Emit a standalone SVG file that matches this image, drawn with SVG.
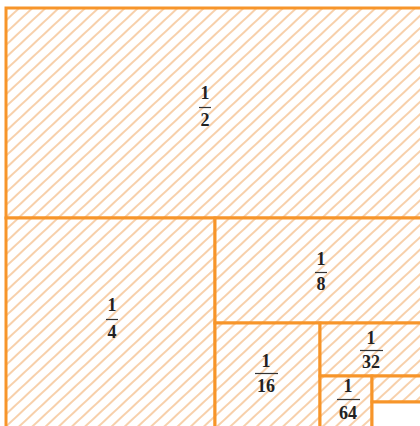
<svg xmlns="http://www.w3.org/2000/svg" width="420" height="426" viewBox="0 0 420 426">
  <defs>
    <pattern id="hatch" patternUnits="userSpaceOnUse" width="9" height="9" patternTransform="rotate(47)">
      <rect width="9" height="9" fill="#ffffff"/>
      <line x1="1" y1="0" x2="1" y2="9" stroke="#f7cba2" stroke-width="1.8"/>
    </pattern>
  </defs>
  <style>
    .box { fill: url(#hatch); stroke: #f7952a; stroke-width: 3; }
    .blank { fill: #ffffff; stroke: #f7952a; stroke-width: 3; }
    .num { font-family: "Liberation Serif", "DejaVu Serif", serif; font-weight: bold; font-size: 18px; fill: #222222; text-anchor: middle; }
    .bar { stroke: #333333; stroke-width: 1.2; }
  </style>
  <rect x="0" y="0" width="420" height="426" fill="#ffffff"/>
  <g id="connectors"></g>
  <g id="half">
    <rect class="box" x="6" y="8" width="418" height="210"/>
    <text class="num" x="205" y="99">1</text>
    <line class="bar" x1="199" y1="107.5" x2="211" y2="107.5"/>
    <text class="num" x="205" y="126">2</text>
  </g>
  <g id="quarter">
    <rect class="box" x="6" y="218" width="209" height="214"/>
    <text class="num" x="112" y="311">1</text>
    <line class="bar" x1="106" y1="319.5" x2="118" y2="319.5"/>
    <text class="num" x="112" y="338">4</text>
  </g>
  <g id="eighth">
    <rect class="box" x="215" y="218" width="209" height="105"/>
    <text class="num" x="321" y="265">1</text>
    <line class="bar" x1="315" y1="272.5" x2="327" y2="272.5"/>
    <text class="num" x="321" y="290">8</text>
  </g>
  <g id="sixteenth">
    <rect class="box" x="215" y="323" width="105" height="109"/>
    <text class="num" x="266" y="367">1</text>
    <line class="bar" x1="255" y1="373.5" x2="278" y2="373.5"/>
    <text class="num" x="266" y="392">16</text>
  </g>
  <g id="thirtysecond">
    <rect class="box" x="320" y="323" width="104" height="53"/>
    <text class="num" x="371" y="344">1</text>
    <line class="bar" x1="360" y1="350.5" x2="383" y2="350.5"/>
    <text class="num" x="371" y="368">32</text>
  </g>
  <g id="sixtyfourth">
    <rect class="box" x="320" y="376" width="52" height="56"/>
    <text class="num" x="348" y="392">1</text>
    <line class="bar" x1="337" y1="399.5" x2="360" y2="399.5"/>
    <text class="num" x="348" y="419">64</text>
  </g>
  <g id="hundredtwentyeighth">
    <rect class="box" x="372" y="376" width="52" height="26"/>
  </g>
  <g id="remainder">
    <rect class="blank" x="372" y="402" width="52" height="30"/>
  </g>
</svg>
